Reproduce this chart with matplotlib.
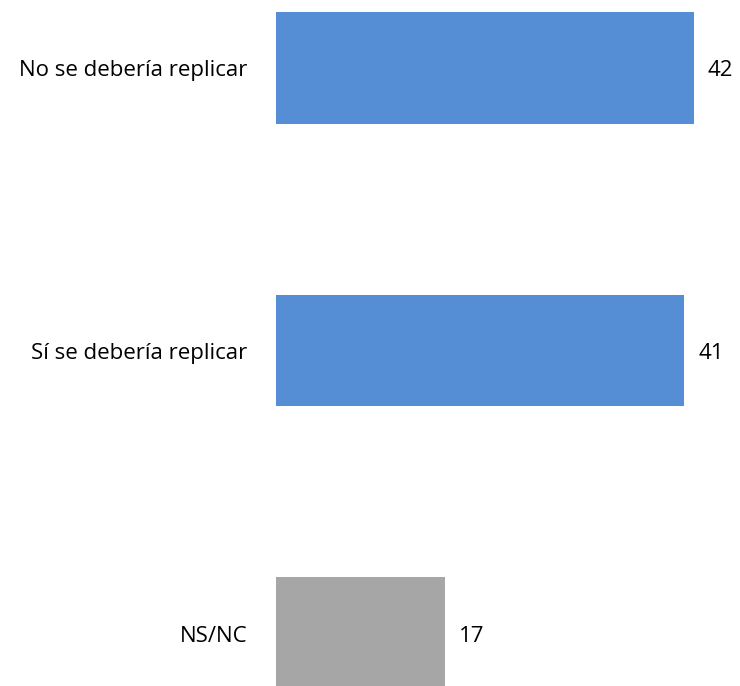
import matplotlib.pyplot as plt

categories = ['No se debería replicar', 'Sí se debería replicar', 'NS/NC']
values = [42, 41, 17]
colors = ['#558ED5', '#558ED5', '#A6A6A6']

plt.rcParams['font.family'] = ['Open Sans', 'DejaVu Sans']

fig = plt.figure(figsize=(7.40, 6.86), dpi=100)
left_px = 276
ax = fig.add_axes([left_px / 740, 0, 1 - left_px / 740, 1])
px_per_unit = 418 / 42
ax.set_xlim(0, (740 - left_px) / px_per_unit)
ax.set_ylim(2 + 53 / 283, -68 / 283)

pos = list(range(len(categories)))
ax.barh(pos, values, height=0.396, color=colors)

for p, v, c in zip(pos, values, categories):
    ax.annotate(str(v), (v, p), xytext=(14, -3), textcoords='offset pixels',
                va='center', ha='left', fontsize=16, color='#000000')
    ax.annotate(c, (0, p), xytext=(-29, -3), textcoords='offset pixels',
                va='center', ha='right', fontsize=16, color='#000000',
                annotation_clip=False)

ax.axis('off')
fig.savefig('out.png', dpi=100)
